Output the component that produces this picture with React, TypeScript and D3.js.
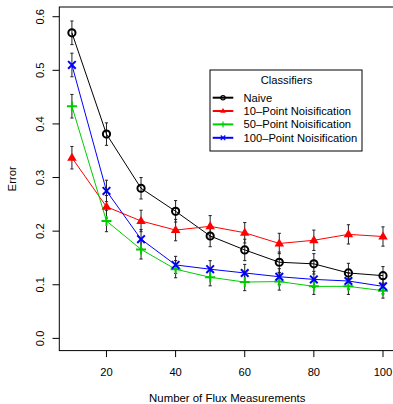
import React from "react";
import * as d3 from "d3";

const xs = [10, 20, 30, 40, 50, 60, 70, 80, 90, 100];
const naive = [0.57, 0.381, 0.28, 0.237, 0.191, 0.165, 0.142, 0.139, 0.122, 0.117];
const pt10 = [0.337, 0.2455, 0.219, 0.202, 0.209, 0.197, 0.177, 0.183, 0.194, 0.19];
const pt50 = [0.433, 0.219, 0.166, 0.129, 0.114, 0.105, 0.106, 0.097, 0.097, 0.089];
const pt100 = [0.51, 0.275, 0.185, 0.137, 0.129, 0.122, 0.115, 0.11, 0.107, 0.097];
const errNaive = [0.022, 0.021, 0.02, 0.02, 0.02, 0.02, 0.019, 0.019, 0.018, 0.017];
const err10 = [0.021, 0.021, 0.02, 0.02, 0.02, 0.019, 0.019, 0.019, 0.018, 0.018];
const err50 = [0.022, 0.02, 0.018, 0.016, 0.016, 0.016, 0.016, 0.015, 0.015, 0.014];
const err100 = [0.022, 0.02, 0.018, 0.016, 0.016, 0.016, 0.015, 0.015, 0.015, 0.014];
const xTicks = [20, 40, 60, 80, 100];
const yTicks = [0.0, 0.1, 0.2, 0.3, 0.4, 0.5, 0.6];
const seriesNames = ["Naive", "10\u2013Point Noisification", "50\u2013Point Noisification", "100\u2013Point Noisification"];
const seriesColors = ["#000000", "#FF0000", "#00CD00", "#0000FF"];
const seriesMarkers = ["circle", "triangle", "plus", "cross"];
const legendTitle = "Classifiers";
const xTitle = "Number of Flux Measurements";
const yTitle = "Error";

const W = 393, H = 404;
const L = 59.3, R = 395.6, T = 7, B = 350.6;
const FONT = "'Liberation Sans', Arial, Helvetica, sans-serif";
const FS = 11.2;

function Marker({ type, x, y, color, s = 1 }: { type: string; x: number; y: number; color: string; s?: number }) {
  const sw = 2 * s > 1 ? 2 * s : 1;
  if (type === "circle") return <circle cx={x} cy={y} r={3.6 * s} fill="none" stroke={color} strokeWidth={sw} />;
  if (type === "triangle") {
    const r = 5 * s;
    const p = d3.path();
    p.moveTo(x, y - r);
    p.lineTo(x + r * 0.95, y + r * 0.6);
    p.lineTo(x - r * 0.95, y + r * 0.6);
    p.closePath();
    return <path d={p.toString()} fill={color} stroke="none" />;
  }
  if (type === "plus") {
    const r = 5 * s;
    return <path d={`M${x - r},${y}H${x + r}M${x},${y - r}V${y + r}`} stroke={color} strokeWidth={sw} fill="none" />;
  }
  const r = 3.8 * s;
  return <path d={`M${x - r},${y - r}L${x + r},${y + r}M${x - r},${y + r}L${x + r},${y - r}`} stroke={color} strokeWidth={sw} fill="none" />;
}

export default function App() {
  const x = d3.scaleLinear().domain([6.35, 103.65]).range([L, R]);
  const y = d3.scaleLinear().domain([-0.0228, 0.6181]).range([B, T]);
  const series = [naive, pt10, pt50, pt100];
  const errs = [errNaive, err10, err50, err100];
  const line = d3.line<number>().x((_, i) => x(xs[i])).y((d) => y(d));

  const legX = 210, legY = 70, legW = 152, legH = 81;
  const rowY = [97.7, 111, 124.4, 137.8];

  return (
    <svg width={W} height={H} style={{ position: "absolute", left: 0, top: 0, background: "#fff" }} fontFamily={FONT}>
      <rect x={0} y={0} width={W} height={H} fill="#fff" />
      {series.map((s, si) =>
        s.map((v, i) => {
          const cx = x(xs[i]);
          const y1 = y(v + errs[si][i]);
          const y2 = y(v - errs[si][i]);
          return (
            <g key={`e${si}-${i}`} stroke="#222" strokeWidth={1}>
              <line x1={cx} x2={cx} y1={y1} y2={y2} />
              <line x1={cx - 1.6} x2={cx + 1.6} y1={y1} y2={y1} />
              <line x1={cx - 1.6} x2={cx + 1.6} y1={y2} y2={y2} />
            </g>
          );
        })
      )}
      {series.map((s, si) => (
        <path key={`l${si}`} d={line(s) || ""} fill="none" stroke={seriesColors[si]} strokeWidth={1} />
      ))}
      {series.map((s, si) =>
        s.map((v, i) => <Marker key={`m${si}-${i}`} type={seriesMarkers[si]} x={x(xs[i])} y={y(v)} color={seriesColors[si]} />)
      )}
      <rect x={L} y={T} width={R - L} height={B - T} fill="none" stroke="#000" strokeWidth={1} />
      {xTicks.map((t) => (
        <g key={`xt${t}`}>
          <line x1={x(t)} x2={x(t)} y1={B} y2={B + 6.5} stroke="#000" />
          <text x={x(t)} y={371.5} textAnchor="middle" dominantBaseline="central" fontSize={FS} fill="#000">{t}</text>
        </g>
      ))}
      {yTicks.map((t) => (
        <g key={`yt${t}`}>
          <line x1={L} x2={L - 6.8} y1={y(t)} y2={y(t)} stroke="#000" />
          <text transform={`translate(40,${y(t)}) rotate(-90)`} textAnchor="middle" dominantBaseline="central" fontSize={FS} fill="#000">{t.toFixed(1)}</text>
        </g>
      ))}
      <text x={227.3} y={398.3} textAnchor="middle" dominantBaseline="central" fontSize={11.4} fill="#000">{xTitle}</text>
      <text transform={`translate(12,${(T + B) / 2}) rotate(-90)`} textAnchor="middle" dominantBaseline="central" fontSize={11.4} fill="#000">{yTitle}</text>
      <rect x={legX} y={legY} width={legW} height={legH} fill="#fff" stroke="#000" strokeWidth={1} />
      <text x={286.5} y={80} textAnchor="middle" dominantBaseline="central" fontSize={FS} fill="#000">{legendTitle}</text>
      {seriesNames.map((n, i) => (
        <g key={`lg${i}`}>
          <line x1={212.7} x2={233.3} y1={rowY[i]} y2={rowY[i]} stroke={seriesColors[i]} strokeWidth={2} />
          <Marker type={seriesMarkers[i]} x={223} y={rowY[i]} color={seriesColors[i]} s={0.6} />
          <text x={243.5} y={rowY[i]} dominantBaseline="central" fontSize={FS} fill="#000">{n}</text>
        </g>
      ))}
    </svg>
  );
}
